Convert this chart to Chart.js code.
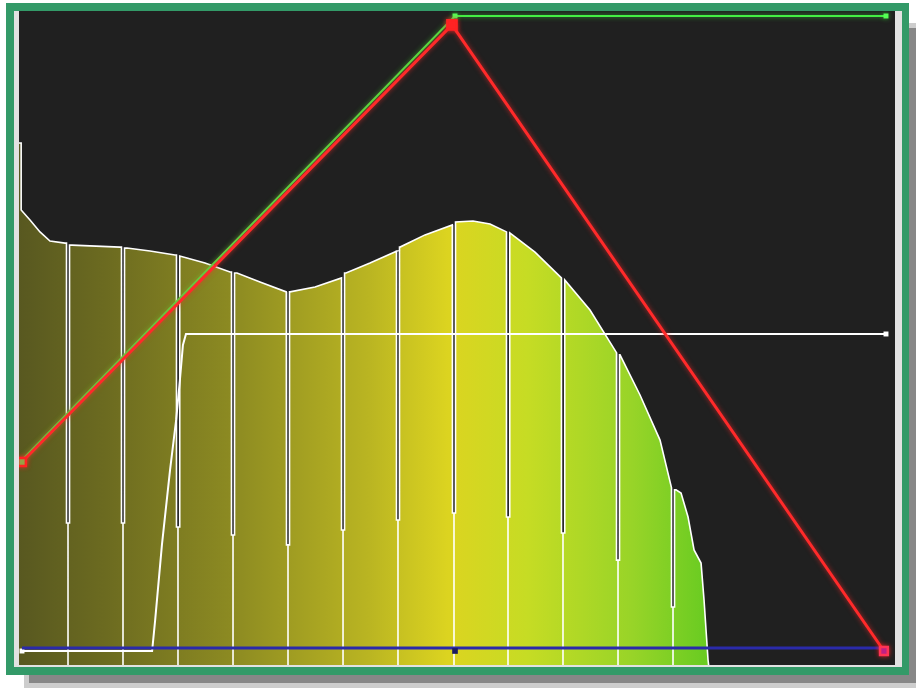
<!DOCTYPE html>
<html><head><meta charset="utf-8">
<script src="https://cdn.jsdelivr.net/npm/chart.js@4.4.0/dist/chart.umd.min.js"></script>
<style>
html,body{margin:0;padding:0;background:#fff;width:916px;height:688px;overflow:hidden;}
#shadow{position:absolute;left:29px;top:28px;width:900px;height:655px;background:#878787;box-shadow:0 0 0 5px #cdcdcd;}
#frame{position:absolute;left:6px;top:3px;width:903px;height:672px;background:#339a68;}
#bevel{position:absolute;left:14px;top:11px;width:888px;height:656px;background:#e2e2e2;}
#wrap{position:absolute;left:19px;top:11px;width:876px;height:654px;background:#202020;}
canvas{display:block;}
</style></head>
<body>
<div id="shadow"></div><div id="frame"></div><div id="bevel"></div>
<div id="wrap"><canvas id="c" width="876" height="654"></canvas></div>
<script>
// Histogram profile (level 0..255 on x, count scaled 0..255 on y)
const histX = [-0.9, -0.25, -0.25, 2.36, 5.31, 8.26, 12.69, 14.76, 28.92, 30.99, 37.78, 45.16, 46.63, 54.01, 61.39, 63.46, 70.24, 78.0, 79.10, 86.48, 94.3, 95.63, 102.71, 110.68, 111.57, 118.94, 127.0, 127.95, 133.11, 138.13, 143.0, 144.03, 151.41, 159.2, 160.26, 167.64, 175.5, 176.50, 182.40, 188.31, 191.7, 193.03, 194.51, 196.58, 198.35, 200.42, 201.30, 202.48, 202.77];
const histY = [204.0, 204.0, 177.1, 173.1, 168.3, 164.6, 163.8, 163.0, 162.2, 161.8, 160.6, 159.0, 158.6, 155.8, 152.2, 151.8, 148.2, 144.2, 144.2, 146.2, 149.8, 151.8, 155.8, 160.6, 162.2, 167.1, 171.1, 172.3, 172.7, 171.5, 168.3, 167.9, 160.2, 149.8, 149.0, 136.9, 119.7, 118.9, 102.8, 84.7, 65.5, 64.7, 63.4, 53.8, 40.6, 35.3, 20.5, -3.6, -7];
// Divider gaps in the histogram
const divX = [13.58, 29.81, 46.04, 62.28, 78.51, 94.75, 110.97, 127.5, 143.44, 159.67, 175.91, 192.14];
const divDip = [51.4, 51.4, 49.8, 46.6, 42.6, 48.6, 52.6, 55.4, 53.8, 47.4, 36.5, 17.7];
// Curves
const redX = [0, 126.9, 254.4];
const redY = [75.9, 251.4, 0];
const greenX = [0, 127.8, 255];
const greenY = [76.7, 255, 255];
const whiteX = [0, 38.4, 39.3, 41.3, 43.7, 45.5, 46.6, 47.5, 48.4, 255];
const whiteY = [0, 0, 12.4, 42.6, 72.7, 92.8, 108.8, 122.9, 127.3, 127.3];
const blueX = [0, 255];
const blueY = [1.2, 1.2];
const blueMarkX = [127.8];
const blueMarkY = [0];

const BOTTOM = -7;
// build histogram outline with gaps at dividers
const histPts = [];
let di = 0;
for (let i = 0; i < histX.length; i++) {
  while (di < divX.length && histX[i] > divX[di]) {
    const prevY = histPts.length ? histPts[histPts.length - 1].y : histY[i];
    const xd = divX[di], h = 0.45;
    histPts.push({x: xd - h, y: prevY}, {x: xd - h, y: divDip[di]}, {x: xd, y: divDip[di]},
                 {x: xd, y: BOTTOM}, {x: xd, y: divDip[di]}, {x: xd + h, y: divDip[di]}, {x: xd + h, y: histY[i]});
    di++;
  }
  histPts.push({x: histX[i], y: histY[i]});
}
const zip = (xs, ys) => xs.map((x, i) => ({x, y: ys[i]}));

const glow = {
  id: 'glow',
  beforeDatasetDraw(chart, args) {
    const ds = chart.data.datasets[args.index];
    if (ds.glow) { chart.ctx.save(); chart.ctx.shadowColor = ds.glow; chart.ctx.shadowBlur = 5; }
  },
  afterDatasetDraw(chart, args) {
    const ds = chart.data.datasets[args.index];
    if (ds.glow) chart.ctx.restore();
  }
};

new Chart(document.getElementById('c'), {
  type: 'line',
  data: {
    datasets: [
      { label: 'red', data: zip(redX, redY), order: 1, clip: false, borderColor: '#ff2a2a', borderWidth: 3,
        glow: 'rgba(255,40,40,0.7)',
        pointStyle: 'rect', pointRadius: [5.5, 6.5, 5.5], pointBorderWidth: 2.5,
        pointBorderColor: ['#ff2222', '#ff2222', '#ff3355'], pointBackgroundColor: ['#66dd55', '#ff2222', '#a020b0'] },
      { label: 'green', data: zip(greenX, greenY), order: 2, clip: false, borderColor: '#44ee44', borderWidth: 2,
        glow: 'rgba(60,255,60,0.6)',
        pointStyle: 'rect', pointRadius: [0, 3.5, 3.5], pointBorderWidth: 0, pointBackgroundColor: '#55ff55' },
      { label: 'blueMark', data: zip(blueMarkX, blueMarkY), order: 3, showLine: false,
        pointStyle: 'rect', pointRadius: 4, pointBorderWidth: 0, pointBackgroundColor: '#1a1a60' },
      { label: 'blue', data: zip(blueX, blueY), order: 4, borderColor: '#2a2aaa', borderWidth: 3, pointRadius: 0 },
      { label: 'white', data: zip(whiteX, whiteY), order: 5, clip: false, borderColor: '#ffffff', borderWidth: 2,
        pointStyle: 'rect', pointRadius: [3.5, 0, 0, 0, 0, 0, 0, 0, 0, 3.5], pointBorderWidth: 0, pointBackgroundColor: '#ffffff' },
      { label: 'hist', data: histPts, order: 10, borderColor: '#ffffff', borderWidth: 1.6, pointRadius: 0,
        fill: 'start', tension: 0,
        backgroundColor: (ctx) => {
          const chart = ctx.chart, a = chart.chartArea;
          if (!a) return '#999';
          const g = chart.ctx.createLinearGradient(a.left, 0, a.right, 0);
          g.addColorStop(0, '#585820');
          g.addColorStop(0.1, '#6c6b20');
          g.addColorStop(0.25, '#8e8c22');
          g.addColorStop(0.4, '#bab522');
          g.addColorStop(0.49, '#dcd420');
          g.addColorStop(0.58, '#c6dc24');
          g.addColorStop(0.7, '#98d428');
          g.addColorStop(0.78, '#6ccc22');
          g.addColorStop(1, '#44c020');
          return g;
        } }
    ]
  },
  options: {
    responsive: false,
    animation: false,
    events: [],
    layout: { padding: 0, autoPadding: false },
    plugins: { legend: { display: false }, tooltip: { enabled: false } },
    scales: {
      x: { type: 'linear', min: -0.885, max: 257.66, display: false },
      y: { type: 'linear', min: -5.62, max: 257.0, display: false }
    }
  },
  plugins: [glow]
});
</script>
</body></html>
